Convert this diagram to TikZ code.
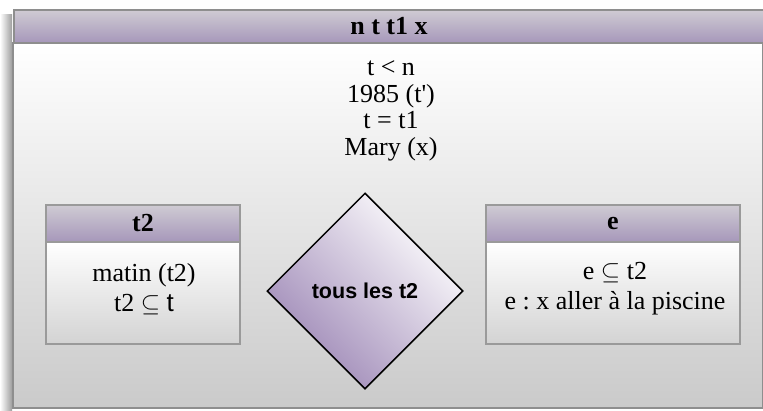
\documentclass[tikz,border=0pt]{standalone}
\usepackage{fontspec}
\setmainfont{Liberation Serif}
\setsansfont{Liberation Sans}
\usetikzlibrary{shapes.geometric}
\frenchspacing
\definecolor{hdrtop}{HTML}{CFCBD3}
\definecolor{hdrbot}{HTML}{A697BA}
\definecolor{bodybot}{HTML}{CACACA}
\definecolor{boxbot}{HTML}{D3D3D3}
\definecolor{edgegray}{HTML}{8E8E8E}
\definecolor{boxedge}{HTML}{9A9A9A}
\definecolor{diam}{HTML}{9C86B5}
\begin{document}
\begin{tikzpicture}[x=1pt,y=-1pt,
  outerbody/.style={rectangle, draw=edgegray, line width=2pt, top color=white, bottom color=bodybot, inner sep=0pt, minimum width=750pt, minimum height=365pt},
  outerhdr/.style={rectangle, draw=edgegray, line width=2pt, top color=hdrtop, bottom color=hdrbot, inner sep=0pt, minimum width=750pt, minimum height=33pt, font=\fontsize{26}{30}\selectfont\bfseries},
  boxhdr/.style={rectangle, draw=boxedge, line width=1.5pt, top color=hdrtop, bottom color=hdrbot, inner sep=0pt, minimum height=37pt, font=\fontsize{26}{30}\selectfont\bfseries},
  boxbody/.style={rectangle, draw=boxedge, line width=1.5pt, top color=white, bottom color=boxbot, inner sep=0pt, minimum height=102pt},
  txt/.style={align=center, inner sep=0pt, font=\fontsize{26}{30}\selectfont},
  maintxt/.style={align=center, inner sep=0pt, font=\fontsize{26}{26.5}\selectfont},
  decision/.style={diamond, aspect=1, draw=black, line width=1.5pt, inner sep=0pt, minimum width=196pt, minimum height=196pt, top color=white, bottom color=diam, shading angle=-45, font=\fontsize{21.5}{25}\selectfont\sffamily\bfseries}
]
\useasboundingbox (0,0) rectangle (763,410);
% drop shadow on the left
\shade[left color=white, right color=black!38] (0,14) rectangle (12,410);
% outer container
\node[outerbody] (outer) at (388,225.5) {};
\node[outerhdr] (title) at (389,26.5) {n t t1 x};
\node[maintxt] (facts) at (391,111) {t < n\\1985 (t\textquotesingle)\\t = t1\\Mary (x)};
% left box
\node[boxbody, minimum width=194pt] (lbody) at (143,293) {};
\node[boxhdr, minimum width=194pt] (lhdr) at (143,223.5) {t2};
\node[txt] (ltext) at (144,289) {matin (t2)\\t2 $\subseteq$ \textsf{t}};
% right box
\node[boxbody, minimum width=254pt] (rbody) at (613,293) {};
\node[boxhdr, minimum width=254pt] (rhdr) at (613,223.5) {e};
\node[txt] (rtext) at (615,289) {e $\subseteq$ t2\\e : x aller à la piscine};
% decision diamond
\node[decision] (dec) at (365,291) {tous les t2};
\end{tikzpicture}
\end{document}
